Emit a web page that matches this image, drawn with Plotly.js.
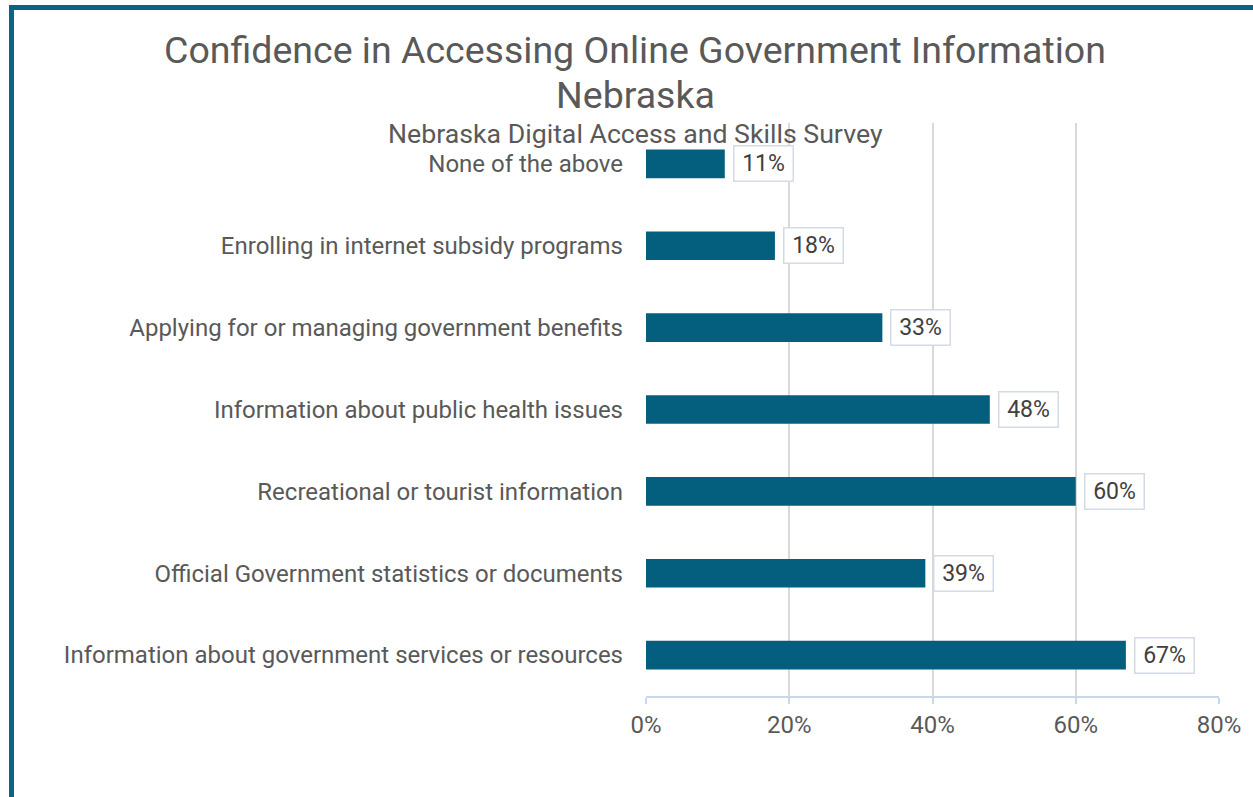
<!DOCTYPE html>
<html>
<head>
<meta charset="utf-8">
<script src="https://cdn.plot.ly/plotly-3.0.1.min.js"></script>
<style>
  html, body { margin: 0; padding: 0; background: #ffffff; overflow: hidden; }
  #frame { position: absolute; left: 9px; top: 5px; width: 1300px; height: 900px;
           border-left: 5px solid #0b6481; border-top: 5px solid #0b6481; box-sizing: border-box; }
  #chart { position: absolute; left: 0; top: 0; width: 1253px; height: 797px; }
</style>
</head>
<body>
<div id="frame"></div>
<div id="chart"></div>
<script>
const categories = [
  "None of the above",
  "Enrolling in internet subsidy programs",
  "Applying for or managing government benefits",
  "Information about public health issues",
  "Recreational or tourist information",
  "Official Government statistics or documents",
  "Information about government services or resources"
];
const values = [11, 18, 33, 48, 60, 39, 67];
const valueLabels = ["11%", "18%", "33%", "48%", "60%", "39%", "67%"];
const tickValues = [0, 20, 40, 60, 80];
const tickLabels = ["0%", "20%", "40%", "60%", "80%"];
const titleLines = ["Confidence in Accessing Online Government Information", "Nebraska"];
const subtitle = "Nebraska Digital Access and Skills Survey";

const FONT = "Roboto, sans-serif";

const trace = {
  type: "bar",
  orientation: "h",
  x: values,
  y: categories,
  width: 0.35,
  marker: { color: "#045f7e" },
  hoverinfo: "x+y"
};

const annotations = categories.map((c, i) => ({
  x: values[i], y: c, xref: "x", yref: "y",
  text: valueLabels[i], showarrow: false,
  xanchor: "left", yanchor: "middle", xshift: 8,
  width: 50, height: 26, align: "center",
  bgcolor: "#ffffff", bordercolor: "#d3dbe6", borderwidth: 1.5, borderpad: 4,
  font: { family: FONT, size: 23, color: "#404040" }
}));

// convert page pixel positions to paper coords
const L = 646, R = 1219, T = 123, B = 696;
const px = x => (x - L) / (R - L);
const py = y => (B - y) / (B - T);

annotations.push({
  xref: "paper", yref: "paper", x: px(635), y: py(50),
  xanchor: "center", yanchor: "middle", showarrow: false,
  text: titleLines[0],
  font: { family: FONT, size: 37.5, color: "#595959" }
});
annotations.push({
  xref: "paper", yref: "paper", x: px(635), y: py(95),
  xanchor: "center", yanchor: "middle", showarrow: false,
  text: titleLines[1],
  font: { family: FONT, size: 37.5, color: "#595959" }
});
annotations.push({
  xref: "paper", yref: "paper", x: px(635), y: py(134),
  xanchor: "center", yanchor: "middle", showarrow: false,
  text: subtitle,
  font: { family: FONT, size: 26.7, color: "#595959" }
});

const layout = {
  width: 1253, height: 797,
  paper_bgcolor: "rgba(0,0,0,0)", plot_bgcolor: "rgba(0,0,0,0)",
  margin: { l: L, r: 1253 - R, t: T, b: 797 - B },
  showlegend: false,
  xaxis: {
    range: [0, 80],
    tickvals: tickValues, ticktext: tickLabels,
    showgrid: true, gridcolor: "#d9d9d9", gridwidth: 2,
    zeroline: false,
    showline: true, linecolor: "#c9d7ec", linewidth: 2,
    ticks: "outside", ticklen: 6, tickcolor: "#c9d7ec", tickwidth: 2,
    tickfont: { family: FONT, size: 24, color: "#595959" },
    fixedrange: true
  },
  yaxis: {
    categoryorder: "array", categoryarray: categories,
    autorange: "reversed",
    showgrid: false, zeroline: false, showline: false,
    ticks: "", ticklabelstandoff: 22,
    tickfont: { family: FONT, size: 24, color: "#595959" },
    fixedrange: true
  },
  annotations: annotations
};

Plotly.newPlot("chart", [trace], layout, { displayModeBar: false, staticPlot: true });
</script>
</body>
</html>
